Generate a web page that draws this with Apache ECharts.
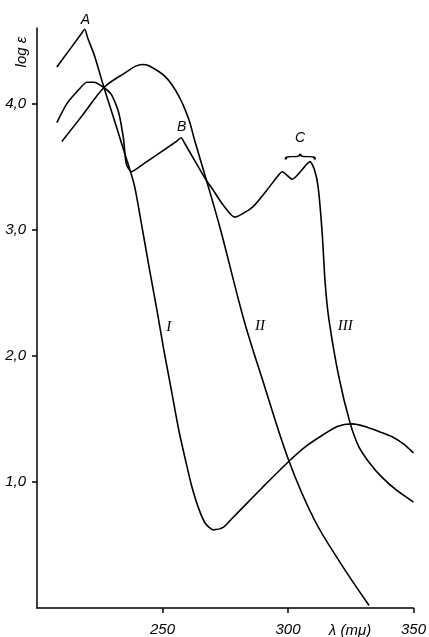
<!DOCTYPE html>
<html><head><meta charset="utf-8">
<script src="https://cdn.jsdelivr.net/npm/echarts@6/dist/echarts.min.js"></script>
<style>html,body{margin:0;padding:0;background:#fff}#c{width:429px;height:637px}</style>
</head><body><div id="c"></div>
<script>
// Curve I
const waveI = [207.9,217.5,219.0,220.2,222.9,226.8,230.8,234.7,238.7,241.5,244.6,247.8,250.5,253.7,256.5,259.2,261.6,264.4,267.1,270.3,274.2,278.2,284.1,290.0,300.7,307.0,313.7,319.6,325.5,330.7,336.2,341.3,346.1,350.0];
const logI  = [4.29,4.55,4.59,4.52,4.38,4.12,3.87,3.62,3.36,3.06,2.71,2.36,2.05,1.71,1.41,1.17,0.97,0.79,0.67,0.62,0.64,0.72,0.84,0.96,1.17,1.28,1.37,1.44,1.46,1.44,1.40,1.36,1.30,1.23];
// Curve II
const waveII = [209.9,218.2,226.8,234.0,241.8,244.6,251.3,256.5,260.4,262.8,267.1,273.0,282.5,290.0,300.3,310.5,320.8,332.3];
const logII  = [3.70,3.91,4.13,4.23,4.31,4.30,4.21,4.06,3.88,3.71,3.42,3.01,2.28,1.80,1.17,0.70,0.36,0.02];
// Curve III
const waveIII = [207.9,211.9,216.6,219.8,222.6,226.5,229.7,232.4,234.4,235.6,237.6,242.3,255.5,257.4,259.0,266.9,270.0,274.0,278.7,285.9,291.8,296.5,297.7,301.7,307.5,308.8,310.5,312.0,313.6,314.8,316.3,320.3,324.7,328.2,332.5,337.3,343.5,350.0];
const logIII  = [3.85,4.00,4.11,4.17,4.17,4.13,4.07,3.94,3.73,3.52,3.46,3.52,3.70,3.73,3.68,3.41,3.32,3.20,3.10,3.18,3.32,3.44,3.46,3.40,3.52,3.54,3.48,3.34,2.98,2.58,2.29,1.83,1.47,1.28,1.15,1.04,0.93,0.84];
// Ticks
const xTicks = [250,300,350];
const yTicks = [1,2,3,4];
// Annotations [text, wavelength, log e]
const notes = [['A',219.3,4.66],['B',257.6,3.81],['C',304.8,3.73],['I',252.5,2.23],['II',288.8,2.24],['III',322.8,2.24]];
const braceAt = [304.5,3.58];

const pairs = (a,b)=>a.map((v,i)=>[v,b[i]]);
const chart = echarts.init(document.getElementById('c'));
const lineStyle = {color:'#000',width:1.6};
const mk = (d,s) => ({type:'line',data:d,symbol:'none',smooth:s,lineStyle:lineStyle,silent:true,animation:false});
const font = 'Liberation Sans';
chart.setOption({
  animation:false,
  grid:{left:37,right:12,top:28,bottom:29},
  xAxis:{type:'value',min:200,max:350,interval:50,
    axisLine:{lineStyle:{color:'#000',width:1.5}},
    axisTick:{customValues:xTicks,length:5,lineStyle:{color:'#000',width:1.5}},
    axisLabel:{customValues:xTicks,color:'#000',fontFamily:font,fontStyle:'italic',fontSize:15,margin:14},
    splitLine:{show:false}},
  yAxis:{type:'value',min:0,max:4.6,interval:1,
    axisLine:{show:true,lineStyle:{color:'#000',width:1.5}},
    axisTick:{show:true,customValues:yTicks,length:5,lineStyle:{color:'#000',width:1.5}},
    axisLabel:{customValues:yTicks,color:'#000',fontFamily:font,fontStyle:'italic',fontSize:15,margin:11,
      formatter:v=>v.toFixed(1).replace('.',',')},
    splitLine:{show:false}},
  series:[mk(pairs(waveI,logI),0.25),mk(pairs(waveII,logII),0.35),mk(pairs(waveIII,logIII),0.2)]
});
const g = [];
notes.forEach(n=>{
  const p = chart.convertToPixel({gridIndex:0},[n[1],n[2]]);
  const serif = n[0].startsWith('I');
  g.push({type:'text',x:p[0],y:p[1],style:{text:n[0],fill:'#000',
    font:'italic '+(serif?'15px "Liberation Serif"':'14px "Liberation Sans"'),align:'center',verticalAlign:'middle'}});
});
const bp = chart.convertToPixel({gridIndex:0},braceAt);
g.push({type:'text',x:bp[0],y:bp[1],rotation:-Math.PI/2,scaleX:0.45,scaleY:1,
  style:{text:'{',fill:'#000',font:'34px "DejaVu Sans"',align:'center',verticalAlign:'middle'}});
g.push({type:'text',x:22,y:52,rotation:Math.PI/2,
  style:{text:'log ε',fill:'#000',font:'italic 15px "Liberation Sans"',align:'center',verticalAlign:'middle'}});
g.push({type:'text',x:350,y:631,
  style:{text:'λ (mμ)',fill:'#000',font:'italic 15px "Liberation Sans"',align:'center',verticalAlign:'middle'}});
chart.setOption({graphic:g});
</script></body></html>
